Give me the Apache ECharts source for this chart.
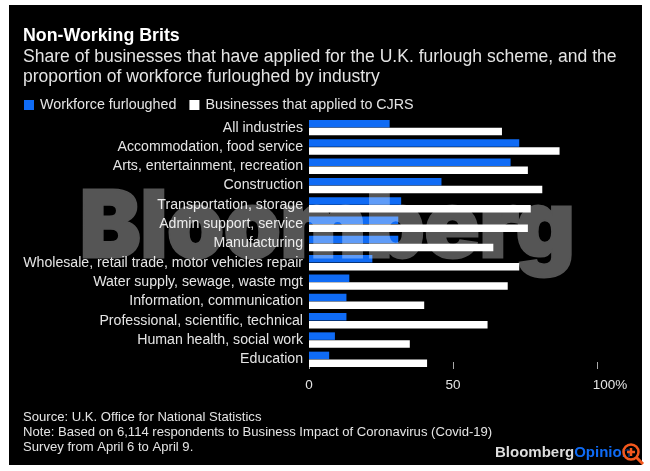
<!DOCTYPE html>
<html>
<head>
<meta charset="utf-8">
<style>
  html, body { margin: 0; padding: 0; background: #fff; }
  #chart { width: 650px; height: 471px; }
  /* watermark layer: screen lets the bars and labels show through it */
  #chart canvas + canvas { mix-blend-mode: screen; }
</style>
<script src="https://cdn.jsdelivr.net/npm/echarts@6/dist/echarts.min.js"></script>
</head>
<body>
<div id="chart"></div>
<script>
const industries = [
  "All industries",
  "Accommodation, food service",
  "Arts, entertainment, recreation",
  "Construction",
  "Transportation, storage",
  "Admin support, service",
  "Manufacturing",
  "Wholesale, retail trade, motor vehicles repair",
  "Water supply, sewage, waste mgt",
  "Information, communication",
  "Professional, scientific, technical",
  "Human health, social work",
  "Education",
];
const workforceFurloughed = [28, 73, 70, 46, 32, 31, 31, 22, 14, 13, 13, 9, 7];
const businessesApplied = [67, 87, 76, 81, 77, 76, 64, 73, 69, 40, 62, 35, 41];
const footnotes = [
  "Source: U.K. Office for National Statistics",
  "Note: Based on 6,114 respondents to Business Impact of Coronavirus (Covid-19)",
  "Survey from April 6 to April 9.",
];

const font = "'Liberation Sans', Arial, sans-serif";
const textColor = "#e4e4e4";
const orange = "#f4581c";

const chart = echarts.init(document.getElementById("chart"));

chart.setOption({
  animation: false,
  backgroundColor: "#fff",
  textStyle: { fontFamily: font },
  title: [
    {
      text: "Non-Working Brits",
      left: 23,
      top: 27,
      padding: 0,
      textStyle: { color: "#fff", fontSize: 17.8, fontWeight: "bold", fontFamily: font },
    },
    {
      text: "Share of businesses that have applied for the U.K. furlough scheme, and the\nproportion of workforce furloughed by industry",
      left: 23,
      top: 47,
      padding: 0,
      textStyle: { color: textColor, fontSize: 17.55, fontWeight: "normal", lineHeight: 20, fontFamily: font },
    },
  ],
  legend: {
    left: 24,
    top: 98,
    padding: 0,
    itemWidth: 10,
    itemHeight: 10,
    itemGap: 13,
    icon: "rect",
    textStyle: { color: textColor, fontSize: 14.3, fontFamily: font, padding: [0, 0, 0, 1] },
    data: ["Workforce furloughed", "Businesses that applied to CJRS"],
  },
  grid: { left: 309, right: 53, top: 118, bottom: 102 },
  xAxis: {
    type: "value",
    min: 0,
    max: 100,
    interval: 50,
    splitLine: { show: false },
    axisLine: { show: false },
    axisTick: { show: true, inside: true, length: 7, lineStyle: { color: "#aaa", width: 1 } },
    axisLabel: {
      color: textColor,
      fontSize: 13.5,
      margin: 9,
      formatter: (v) => (v === 100 ? "{pct|100%}" : String(v)),
      rich: { pct: { color: textColor, fontSize: 13.5, padding: [0, 0, 0, 26] } },
    },
  },
  yAxis: {
    type: "category",
    inverse: true,
    data: industries,
    axisLine: { show: false },
    axisTick: { show: false },
    axisLabel: { color: textColor, fontSize: 14.15, margin: 6 },
  },
  series: [
    {
      name: "Workforce furloughed",
      type: "bar",
      data: workforceFurloughed,
      barWidth: 7.5,
      barGap: "5%",
      itemStyle: { color: "#0f6bf5" },
    },
    {
      name: "Businesses that applied to CJRS",
      type: "bar",
      data: businessesApplied,
      barWidth: 7.5,
      itemStyle: { color: "#fff" },
    },
  ],
  graphic: [
    // black panel behind everything
    { type: "rect", z: -1, shape: { x: 9, y: 5, width: 633, height: 460 }, style: { fill: "#000" } },
    // watermark on its own layer, blended by the css rule above
    {
      type: "text",
      zlevel: 5,
      x: 80,
      y: 275,
      scaleX: 0.985,
      style: {
        text: "Bloomberg",
        fill: "#555",
        stroke: "#555",
        lineWidth: 3,
        font: "900 92px Inter, " + font,
        textVerticalAlign: "bottom",
      },
    },
    ...footnotes.map((line, i) => ({
      type: "text",
      z: 10,
      left: 23,
      top: 411 + i * 15,
      style: { text: line, fill: textColor, font: "13.1px " + font },
    })),
    {
      type: "text",
      z: 10,
      left: 495,
      top: 445,
      style: {
        text: "{a|Bloomberg}{b|Opinion}",
        rich: {
          a: { fill: "#ddd", font: "bold 15px " + font },
          b: { fill: "#0f6bf5", font: "bold 15px " + font },
        },
      },
    },
    // zoom magnifier badge in the corner
    { type: "circle", z: 20, shape: { cx: 631, cy: 452, r: 7.5 }, style: { fill: "rgba(0,0,0,0.6)", stroke: orange, lineWidth: 2.5 } },
    { type: "line", z: 20, shape: { x1: 636.5, y1: 457.5, x2: 643, y2: 464 }, style: { stroke: orange, lineWidth: 3 } },
    { type: "line", z: 21, shape: { x1: 627, y1: 452, x2: 635, y2: 452 }, style: { stroke: orange, lineWidth: 2.5 } },
    { type: "line", z: 21, shape: { x1: 631, y1: 448, x2: 631, y2: 456 }, style: { stroke: orange, lineWidth: 2.5 } },
  ],
});
</script>
</body>
</html>
